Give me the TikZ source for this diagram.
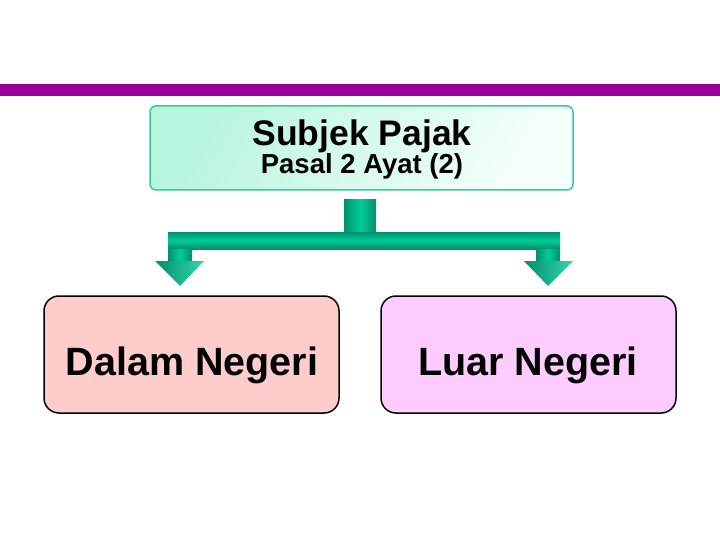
\documentclass[tikz,border=0pt]{standalone}
\usepackage{fontspec}
\setmainfont{Liberation Sans}
\definecolor{purplebar}{HTML}{990099}
\definecolor{mintA}{HTML}{B8F5DD}
\definecolor{mintB}{HTML}{F4FFFA}
\definecolor{tealborder}{HTML}{33CC99}
\definecolor{greenmid}{HTML}{00CC99}
\definecolor{greendark}{HTML}{00906A}
\definecolor{pinkfill}{HTML}{FFCCCC}
\definecolor{lilacfill}{HTML}{FFCCFF}
\tikzset{
  topbox/.style={draw=tealborder, line width=1.5pt, rounded corners=6pt,
    shading=axis, left color=mintA, right color=mintB, shading angle=60},
  subbox/.style={draw=black, line width=1.5pt, rounded corners=15pt},
  vpipe/.style={shading=axis, left color=greendark, right color=greendark, middle color=greenmid},
  hpipe/.style={shading=axis, top color=greendark, bottom color=greendark, middle color=greenmid},
  headfill/.style={shading=axis, left color=greendark, right color=greenmid!80!white},
  lbl/.style={inner sep=0pt, anchor=base}
}
\begin{document}
\begin{tikzpicture}[x=1pt,y=-1pt]
\useasboundingbox (0,0) rectangle (720,540);
\fill[purplebar] (0,84) rectangle (720,96);
% top box
\path[topbox] (150,106) rectangle (573,190);
\node[lbl, font=\bfseries\fontsize{35.5}{40}\selectfont] (title) at (362,146) {Subjek Pajak};
\node[lbl, font=\bfseries\fontsize{27.5}{32}\selectfont] (sub) at (362,174) {Pasal 2 Ayat (2)};
% connector
\path[vpipe] (344,200) rectangle (376,233);
\path[hpipe] (168,232) rectangle (560,249);
\path[vpipe] (168,249) rectangle (192,262);
\path[headfill] (155,261) -- (204,261) -- (180,286) -- cycle;
\path[vpipe] (536,249) rectangle (560,262);
\path[headfill] (524,261) -- (573,261) -- (548,286) -- cycle;
% bottom boxes
\node[subbox, fill=pinkfill, minimum width=295pt, minimum height=117pt] (dn) at (191.5,354.5) {};
\node[subbox, fill=lilacfill, minimum width=295pt, minimum height=117pt] (ln) at (528.5,354.5) {};
\node[lbl, font=\bfseries\fontsize{39.5}{44}\selectfont] (dnt) at (192,375) {Dalam Negeri};
\node[lbl, font=\bfseries\fontsize{39.5}{44}\selectfont] (lnt) at (528,375) {Luar Negeri};
\end{tikzpicture}
\end{document}
